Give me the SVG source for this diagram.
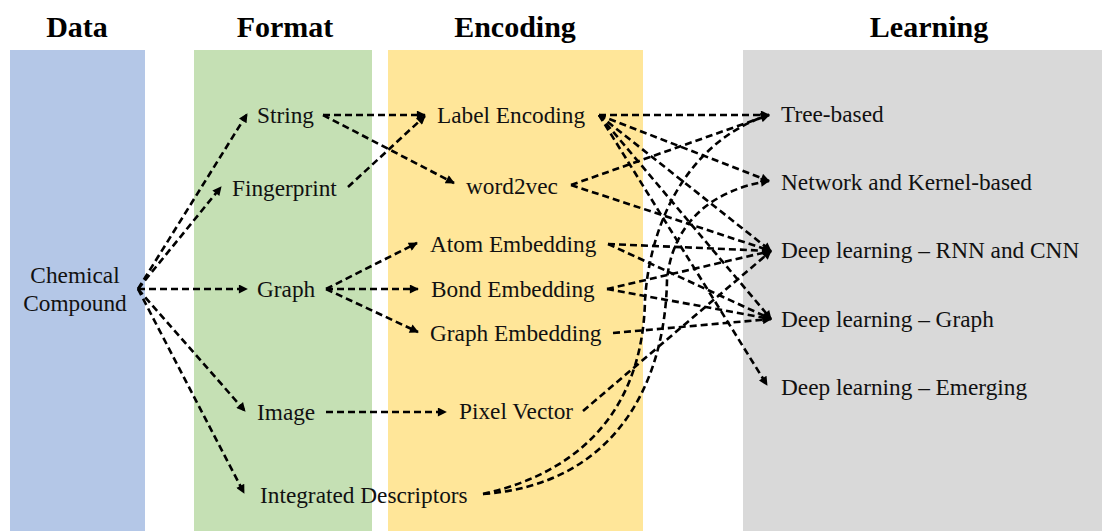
<svg xmlns="http://www.w3.org/2000/svg" width="1102" height="531" viewBox="0 0 1102 531">
  <style>
    .title { font-family: "Liberation Serif", "Times New Roman", serif; font-size: 30px; font-weight: bold; text-anchor: middle; fill: #000; }
    .label { font-family: "Liberation Serif", "Times New Roman", serif; font-size: 23.3px; fill: #111; }
    .mid { text-anchor: middle; }
    .edge { fill: none; stroke: #000; stroke-width: 2.6; stroke-dasharray: 7 4; marker-end: url(#arrow); }
  </style>
  <defs>
    <marker id="arrow" viewBox="0 0 10 10" refX="9" refY="5" markerWidth="11" markerHeight="9" markerUnits="userSpaceOnUse" orient="auto">
      <path d="M0,0 L10,5 L0,10 z" fill="#000"/>
    </marker>
  </defs>

  <!-- column bands -->
  <g id="bands">
    <rect x="10" y="50" width="135" height="481" fill="#B4C7E7"/>
    <rect x="194" y="50" width="178" height="481" fill="#C5E0B4"/>
    <rect x="388" y="50" width="255" height="481" fill="#FFE699"/>
    <rect x="743" y="50" width="359" height="481" fill="#D9D9D9"/>
  </g>

  <!-- column headings -->
  <g id="headings">
    <text class="title" x="77" y="37">Data</text>
    <text class="title" x="285" y="37">Format</text>
    <text class="title" x="515" y="37">Encoding</text>
    <text class="title" x="929" y="37">Learning</text>
  </g>

  <!-- connectors -->
  <g id="connectors">
    <!-- data to formats -->
    <path class="edge" d="M138,289 L247,114"/>
    <path class="edge" d="M138,289 L221,187"/>
    <path class="edge" d="M138,289 L247,289"/>
    <path class="edge" d="M138,289 L245,411"/>
    <path class="edge" d="M138,289 L244,493"/>
    <!-- formats to encodings -->
    <path class="edge" d="M323,115 L425,115"/>
    <path class="edge" d="M323,115 L454,183"/>
    <path class="edge" d="M348,187 L425,116"/>
    <path class="edge" d="M326,289 L417,243"/>
    <path class="edge" d="M326,289 L418,289"/>
    <path class="edge" d="M326,289 L418,332"/>
    <path class="edge" d="M326,412 L446,412"/>
    <!-- encodings to learning -->
    <path class="edge" d="M599,115 L769,115"/>
    <path class="edge" d="M599,115 L769,181"/>
    <path class="edge" d="M599,115 L771,251"/>
    <path class="edge" d="M599,115 L771,319"/>
    <path class="edge" d="M599,115 L767,385"/>
    <path class="edge" d="M571,185 L769,115"/>
    <path class="edge" d="M571,185 L771,251"/>
    <path class="edge" d="M608,244 L771,251"/>
    <path class="edge" d="M608,244 L771,319"/>
    <path class="edge" d="M607,289 L771,251"/>
    <path class="edge" d="M607,289 L771,319"/>
    <path class="edge" d="M613,333 L771,319"/>
    <path class="edge" d="M583,411 L771,251"/>
    <path class="edge" d="M483,494 C590,470 643,400 645,300 C650,220 690,140 769,115"/>
    <path class="edge" d="M483,494 C610,485 665,390 667,280 C672,225 710,190 769,181"/>
  </g>

  <!-- data -->
  <g id="node-chemical-compound">
    <text class="label mid" x="75" y="283">Chemical</text>
    <text class="label mid" x="75" y="311">Compound</text>
  </g>

  <!-- formats -->
  <g id="node-string"><text class="label" x="257" y="123">String</text></g>
  <g id="node-fingerprint"><text class="label" x="232" y="196">Fingerprint</text></g>
  <g id="node-graph"><text class="label" x="257" y="297">Graph</text></g>
  <g id="node-image"><text class="label" x="257" y="420">Image</text></g>
  <g id="node-integrated-descriptors"><text class="label" x="260" y="503">Integrated Descriptors</text></g>

  <!-- encodings -->
  <g id="node-label-encoding"><text class="label" x="437" y="123">Label Encoding</text></g>
  <g id="node-word2vec"><text class="label" x="466" y="194">word2vec</text></g>
  <g id="node-atom-embedding"><text class="label" x="430" y="252">Atom Embedding</text></g>
  <g id="node-bond-embedding"><text class="label" x="431" y="297">Bond Embedding</text></g>
  <g id="node-graph-embedding"><text class="label" x="430" y="341">Graph Embedding</text></g>
  <g id="node-pixel-vector"><text class="label" x="459" y="419">Pixel Vector</text></g>

  <!-- learning methods -->
  <g id="node-tree-based"><text class="label" x="781" y="122">Tree-based</text></g>
  <g id="node-network-kernel"><text class="label" x="781" y="190">Network and Kernel-based</text></g>
  <g id="node-dl-rnn-cnn"><text class="label" x="781" y="258">Deep learning – RNN and CNN</text></g>
  <g id="node-dl-graph"><text class="label" x="781" y="327">Deep learning – Graph</text></g>
  <g id="node-dl-emerging"><text class="label" x="781" y="395">Deep learning – Emerging</text></g>
</svg>
